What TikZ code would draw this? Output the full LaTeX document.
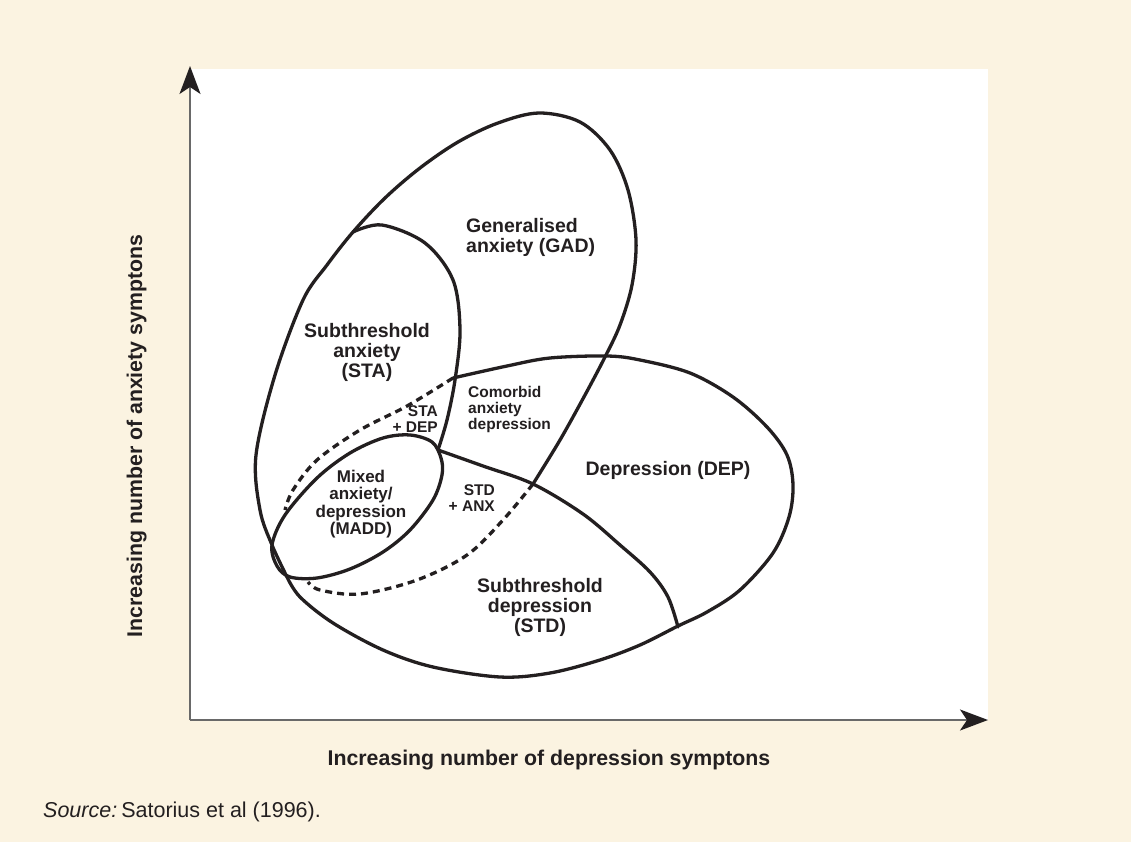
\documentclass[tikz,border=0pt]{standalone}
\usepackage{fontspec}
\setmainfont{Liberation Sans}
\usetikzlibrary{arrows.meta}
\definecolor{cream}{RGB}{251,243,225}
\definecolor{ink}{RGB}{35,31,32}
\definecolor{axisgrey}{RGB}{105,105,105}
\tikzset{
  curve/.style={draw=ink, line width=3.3pt, line join=round, line cap=round},
  dashcurve/.style={draw=ink, line width=3.3pt, line join=round, dash pattern=on 7pt off 5pt},
  axisline/.style={draw=axisgrey, line width=1.6pt, -{Stealth[length=28pt,width=21pt,inset=7pt,color=ink]}},
  lbl/.style={text=ink, inner sep=0pt, font=\bfseries\fontsize{19.5}{20}\selectfont},
  midlbl/.style={text=ink, inner sep=0pt, font=\bfseries\fontsize{17}{17.5}\selectfont},
  smalllbl/.style={text=ink, inner sep=0pt, font=\bfseries\fontsize{15.5}{16}\selectfont},
  axislbl/.style={text=ink, inner sep=0pt, font=\bfseries\fontsize{21.3}{22}\selectfont},
}
\begin{document}
\begin{tikzpicture}[x=1pt,y=-1pt]
\useasboundingbox (0,0) rectangle (1131,842);
\fill[cream] (0,0) rectangle (1131,842);
\fill[white] (190,69) rectangle (988,720);

% axes
\coordinate (O) at (190,720);
\coordinate (ytip) at (190,66);
\coordinate (xtip) at (988,720);
\draw[axisline] (O) -- (ytip);
\draw[axisline] (O) -- (xtip);

% Generalised anxiety (solid part)
\draw[curve] plot[smooth, tension=0.55] coordinates {(533,484) (560,440) (585,395) (605,357) (620,325) (632,285) (636,240) (628,190) (610,150) (580,122) (539,113) (498,123) (458,142) (420,168) (385,198) (353,232) (327,265) (303,300) (275,375) (256,455) (260,510) (272,545) (287,577)};
% Generalised anxiety (dashed part inside depression)
\draw[dashcurve] plot[smooth, tension=0.55] coordinates {(533,484) (503,520) (467,555) (417,580) (360,594) (320,590) (308,582)};

% Depression (solid part)
\draw[curve] plot[smooth, tension=0.55] coordinates {(453,378) (507,366) (550,358) (607,356) (640,360) (690,373) (733,397) (767,427) (787,455) (793,485) (789,517) (773,553) (740,590) (707,612) (678,626) (640,645) (600,660) (550,673) (500,677) (433,667) (383,650) (333,623) (300,597) (287,577)};
% Depression (dashed part)
\draw[dashcurve] plot[smooth, tension=0.55] coordinates {(453,378) (407,406) (360,430) (317,460) (293,490) (285,510)};

% Subthreshold anxiety
\draw[curve] plot[smooth, tension=0.55] coordinates {(353,232) (382,225) (425,243) (453,280) (460,330) (455,380) (447,420) (438,450)};

% Mixed anxiety/depression
\draw[curve] plot[smooth cycle, tension=0.55] coordinates {(272,545) (285,515) (317,478) (350,453) (383,438) (410,435) (432,442) (441,458) (442,475) (433,500) (410,530) (383,552) (350,569) (317,578) (290,577) (277,566)};

% Subthreshold depression boundary
\draw[curve] plot[smooth, tension=0.55] coordinates {(438,450) (483,466) (533,484) (583,514) (620,545) (650,572) (668,597) (678,627)};

% labels
\node[lbl, align=left, anchor=west] (gad) at (466,237) {Generalised\\anxiety (GAD)};
\node[lbl, align=center] (sta) at (367,352) {Subthreshold\\anxiety\\(STA)};
\node[smalllbl, align=left, anchor=west] (com) at (468,409) {Comorbid\\anxiety\\depression};
\node[smalllbl, align=right, anchor=east] (stadep) at (438,419) {STA\\+ DEP};
\node[midlbl, align=center] (madd) at (361,504) {Mixed\\anxiety/\\depression\\(MADD)};
\node[smalllbl, align=right, anchor=east] (stdanx) at (495,498) {STD\\+ ANX};
\node[lbl] (dep) at (668,470) {Depression (DEP)};
\node[lbl, align=center] (std) at (540,607) {Subthreshold\\depression\\(STD)};

\node[axislbl, anchor=base] (xlab) at (549,765) {Increasing number of depression symptons};
\node[axislbl, anchor=base, rotate=90] (ylab) at (142,436) {Increasing number of anxiety symptons};
\node[text=ink, inner sep=0pt, anchor=base west, font=\fontsize{21.5}{22}\selectfont] (src) at (43,817) {\textit{Source:}\hspace{4pt}Satorius et al (1996).};
\end{tikzpicture}
\end{document}
